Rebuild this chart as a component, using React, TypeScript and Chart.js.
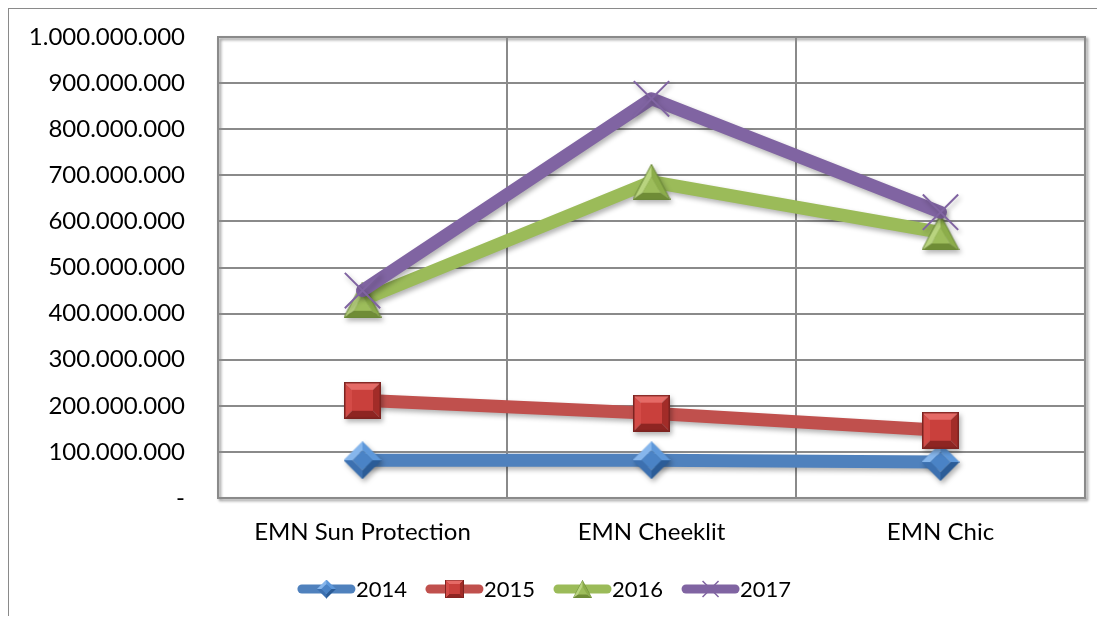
import React, { useEffect, useRef } from 'react';
import { Chart, registerables } from 'chart.js';

Chart.register(...registerables);

const categories = ['EMN Sun Protection', 'EMN Cheeklit', 'EMN Chic'];
const seriesNames = ['2014', '2015', '2016', '2017'];
const values2014 = [82000000, 82000000, 78000000];
const values2015 = [212000000, 184000000, 147000000];
const values2016 = [430000000, 686000000, 576000000];
const values2017 = [450000000, 866000000, 620000000];
const yMin = 0;
const yMax = 1000000000;
const yStep = 100000000;

const FONT = 'Lato, Carlito, "Open Sans", sans-serif';
const FONT_SIZE = 24;
const LEGEND_FONT_SIZE = 22;

function fmt(v: number): string {
  if (v === 0) return '-';
  return String(Math.round(v)).replace(/\B(?=(\d{3})+(?!\d))/g, '.');
}

function poly(ctx: CanvasRenderingContext2D, pts: number[][], fill: string) {
  ctx.beginPath();
  ctx.moveTo(pts[0][0], pts[0][1]);
  for (let i = 1; i < pts.length; i++) ctx.lineTo(pts[i][0], pts[i][1]);
  ctx.closePath();
  ctx.fillStyle = fill;
  ctx.fill();
}

function makeDiamond(): HTMLCanvasElement {
  const s = 38;
  const c = document.createElement('canvas');
  c.width = s; c.height = s;
  const ctx = c.getContext('2d')!;
  const m = s / 2;
  const ri = 10;
  const T = [m, 0], R = [s, m], B = [m, s], L = [0, m];
  const t = [m, m - ri], r = [m + ri, m], b = [m, m + ri], l = [m - ri, m];
  poly(ctx, [T, L, l, t], '#86b6ec');
  poly(ctx, [T, R, r, t], '#5e98da');
  poly(ctx, [R, B, b, r], '#2b5c97');
  poly(ctx, [B, L, l, b], '#3c70b0');
  poly(ctx, [t, r, b, l], '#4a83c6');
  return c;
}

function makeSquare(): HTMLCanvasElement {
  const s = 37;
  const c = document.createElement('canvas');
  c.width = s; c.height = s;
  const ctx = c.getContext('2d')!;
  const i = 8;
  poly(ctx, [[0, 0], [s, 0], [s - i, i], [i, i]], '#e56a66');
  poly(ctx, [[0, 0], [i, i], [i, s - i], [0, s]], '#d44b47');
  poly(ctx, [[s, 0], [s, s], [s - i, s - i], [s - i, i]], '#a22c28');
  poly(ctx, [[0, s], [i, s - i], [s - i, s - i], [s, s]], '#8e2522');
  poly(ctx, [[i, i], [s - i, i], [s - i, s - i], [i, s - i]], '#c9403c');
  ctx.strokeStyle = '#7c2320';
  ctx.lineWidth = 1.5;
  ctx.strokeRect(0.75, 0.75, s - 1.5, s - 1.5);
  return c;
}

function makeTriangle(): HTMLCanvasElement {
  const w = 38, h = 36;
  const c = document.createElement('canvas');
  c.width = w; c.height = h;
  const ctx = c.getContext('2d')!;
  const A = [w / 2, 0.5], B = [w - 0.5, h - 0.5], C = [0.5, h - 0.5];
  const a = [w / 2, 13], b = [w / 2 + 9, h - 7], cc = [w / 2 - 9, h - 7];
  poly(ctx, [A, C, cc, a], '#b9d47f');
  poly(ctx, [A, B, b, a], '#8cad4a');
  poly(ctx, [C, B, b, cc], '#6f8c36');
  poly(ctx, [a, b, cc], '#9dbd5b');
  ctx.beginPath();
  ctx.moveTo(A[0], A[1]); ctx.lineTo(B[0], B[1]); ctx.lineTo(C[0], C[1]); ctx.closePath();
  ctx.strokeStyle = '#6a8837';
  ctx.lineWidth = 1;
  ctx.stroke();
  return c;
}

export default function App() {
  const ref = useRef<HTMLCanvasElement | null>(null);

  useEffect(() => {
    document.documentElement.style.overflow = 'hidden';
    document.body.style.overflow = 'hidden';
    const canvas = ref.current;
    if (!canvas) return;

    const diamond = makeDiamond();
    const square = makeSquare();
    const triangle = makeTriangle();

    const colors = ['#4F81BD', '#C0504D', '#9BBB59', '#8064A2'];
    const markers: any[] = [diamond, square, triangle, 'crossRot'];
    const allValues = [values2014, values2015, values2016, values2017];

    const datasets = seriesNames.map((name, i) => ({
      label: name,
      data: allValues[i],
      borderColor: colors[i],
      backgroundColor: colors[i],
      borderWidth: 13,
      borderCapStyle: 'round' as const,
      borderJoinStyle: 'round' as const,
      pointStyle: markers[i],
      pointRadius: i === 3 ? 25 : 19,
      pointBorderColor: colors[i],
      pointBorderWidth: i === 3 ? 2 : 0,
      pointBackgroundColor: colors[i],
      tension: 0,
      order: 3 - i,
      clip: false as any,
    }));

    const frameShadow = {
      id: 'frameShadow',
      beforeDraw(chart: any) {
        const { ctx, chartArea: a } = chart;
        ctx.save();
        ctx.shadowColor = 'rgba(0,0,0,0.45)';
        ctx.shadowBlur = 3;
        ctx.shadowOffsetX = 2;
        ctx.shadowOffsetY = 2;
        ctx.strokeStyle = '#8a8a8a';
        ctx.lineWidth = 2;
        ctx.strokeRect(a.left, a.top, a.right - a.left, a.bottom - a.top);
        ctx.restore();
      },
    };

    const dsShadow = {
      id: 'dsShadow',
      beforeDatasetsDraw(chart: any) {
        const ctx = chart.ctx;
        ctx.save();
        ctx.shadowColor = 'rgba(0,0,0,0.3)';
        ctx.shadowBlur = 5;
        ctx.shadowOffsetX = 2;
        ctx.shadowOffsetY = 3;
      },
      afterDatasetsDraw(chart: any) {
        chart.ctx.restore();
      },
    };

    const customLegend = {
      id: 'customLegend',
      afterDraw(chart: any) {
        const ctx = chart.ctx as CanvasRenderingContext2D;
        ctx.save();
        ctx.font = `${LEGEND_FONT_SIZE}px ${FONT}`;
        const lineLen = 57;
        const gap = 19;
        const cy = 580;
        const widths = seriesNames.map((n) => ctx.measureText(n).width);
        let total = 0;
        widths.forEach((w, i) => { total += lineLen + 1 + w + (i < widths.length - 1 ? gap : 0); });
        let x = 535.5 - total / 2;
        seriesNames.forEach((name, i) => {
          ctx.strokeStyle = colors[i];
          ctx.lineWidth = 9;
          ctx.lineCap = 'round';
          ctx.beginPath();
          ctx.moveTo(x + 4, cy);
          ctx.lineTo(x + lineLen - 4, cy);
          ctx.stroke();
          const mx = x + lineLen / 2;
          const mk = markers[i];
          if (typeof mk === 'string') {
            ctx.strokeStyle = colors[i];
            ctx.lineWidth = 1.5;
            ctx.lineCap = 'butt';
            const r = 8;
            ctx.beginPath();
            ctx.moveTo(mx - r, cy - r); ctx.lineTo(mx + r, cy + r);
            ctx.moveTo(mx + r, cy - r); ctx.lineTo(mx - r, cy + r);
            ctx.stroke();
          } else {
            const w = mk.width / 2, h = mk.height / 2;
            ctx.drawImage(mk, mx - w / 2, cy - h / 2, w, h);
          }
          ctx.fillStyle = '#000';
          ctx.textBaseline = 'middle';
          ctx.textAlign = 'left';
          ctx.fillText(name, x + lineLen + 1, cy + 1);
          x += lineLen + 1 + widths[i] + gap;
        });
        ctx.restore();
      },
    };

    const chart = new Chart(canvas, {
      type: 'line',
      data: { labels: categories, datasets },
      plugins: [frameShadow, dsShadow, customLegend],
      options: {
        animation: false,
        responsive: false,
        maintainAspectRatio: false,
        layout: { autoPadding: false, padding: { top: 28, right: 12, bottom: 58, left: 0 } },
        plugins: {
          legend: { display: false },
          tooltip: { enabled: false },
        },
        scales: {
          x: {
            offset: true,
            grid: { offset: true, color: '#8a8a8a', lineWidth: 2, drawTicks: false },
            border: { display: true, color: '#8a8a8a', width: 2 },
            ticks: {
              color: '#000',
              font: { family: FONT, size: FONT_SIZE },
              padding: 20,
              maxRotation: 0,
              autoSkip: false,
            },
            afterFit(scale: any) { scale.height = 60; scale.paddingLeft = 0; scale.paddingRight = 0; },
          },
          y: {
            min: yMin,
            max: yMax,
            grid: { color: '#8a8a8a', lineWidth: 2, drawTicks: false },
            border: { display: true, color: '#8a8a8a', width: 2 },
            ticks: {
              stepSize: yStep,
              color: '#000',
              font: { family: FONT, size: FONT_SIZE },
              padding: 33,
              callback: (v: any) => fmt(Number(v)),
            },
            afterFit(scale: any) { scale.width = 209; scale.paddingTop = 0; scale.paddingBottom = 0; },
          },
        },
      },
    } as any);

    return () => chart.destroy();
  }, []);

  return (
    <div
      style={{
        width: 1088,
        height: 607,
        borderTop: '1px solid #8a8a8a',
        borderLeft: '1px solid #8a8a8a',
        background: '#fff',
      }}
    >
      <canvas ref={ref} width={1088} height={607} style={{ display: 'block', width: 1088, height: 607 }} />
    </div>
  );
}
